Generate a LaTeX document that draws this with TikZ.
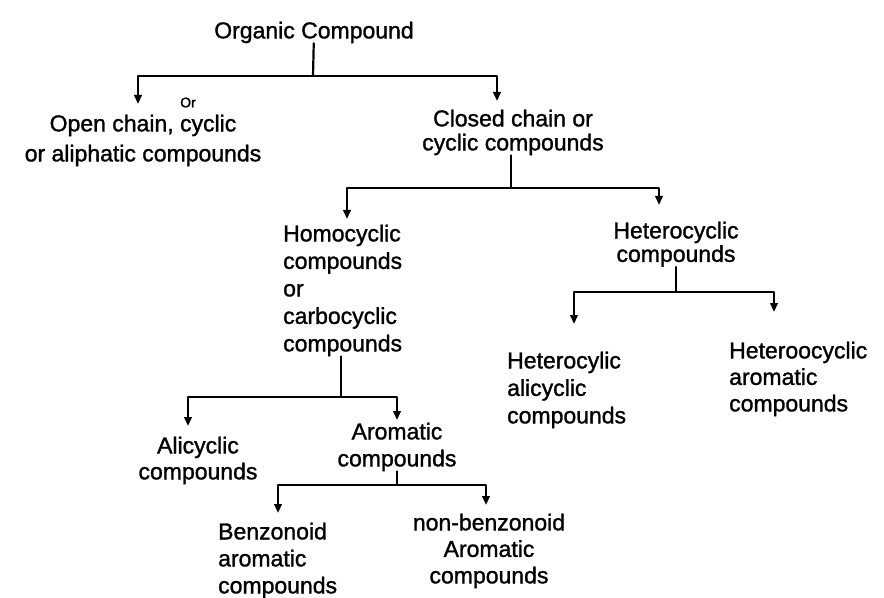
\documentclass[tikz,border=0pt]{standalone}
\usepackage{fontspec}
\setmainfont{Liberation Sans}[FakeBold=1.3]
\usetikzlibrary{arrows.meta}
\newcommand{\fszset}[1]{\fontsize{23bp}{#1bp}\selectfont}
\begin{document}
\begin{tikzpicture}[x=1bp,y=-1bp,
  lbl/.style={inner sep=0pt, font=\fszset{#1}},
  ln/.style={line width=2.2bp, line cap=round, line join=round},
  arr/.style={ln, -{Triangle[length=9bp,width=7.5bp]}}]
\useasboundingbox (0,0) rectangle (884,598);
% nodes
\node[lbl=28, anchor=north] (org) at (314,21.5) {Organic Compound};
\node[lbl=30, anchor=north, align=center] (open) at (143,114.5) {Open chain, cyclic\\or aliphatic compounds};
\node[inner sep=0pt, font=\fontsize{14bp}{14bp}\selectfont] (ormark) at (188,102.5) {Or};
\node[lbl=24, anchor=north, align=center] (closed) at (513,109.5) {Closed chain or\\cyclic compounds};
\node[lbl=27.5, anchor=north west, align=left] (homo) at (283,224.5) {Homocyclic\\compounds\\or\\carbocyclic\\compounds};
\node[lbl=23.5, anchor=north, align=center] (het) at (676,221.5) {Heterocyclic\\compounds};
\node[lbl=27.5, anchor=north west, align=left] (hali) at (507,351.5) {Heterocylic\\alicyclic\\compounds};
\node[lbl=26.5, anchor=north west, align=left] (harom) at (729,341.5) {Heteroocyclic\\aromatic\\compounds};
\node[lbl=26, anchor=north, align=center] (alic) at (198,436.5) {Alicyclic\\compounds};
\node[lbl=27, anchor=north, align=center] (arom) at (397,422.5) {Aromatic\\compounds};
\node[lbl=27, anchor=north west, align=left] (benz) at (218,522.5) {Benzonoid\\aromatic\\compounds};
\node[lbl=26.5, anchor=north, align=center] (nonb) at (489,513.5) {non-benzonoid\\Aromatic\\compounds};
% junctions and arrow tips
\coordinate (j1) at (313,76);
\coordinate (t-open) at (138,104);
\coordinate (t-closed) at (497,101);
\coordinate (j2) at (511,188);
\coordinate (t-homo) at (347,219);
\coordinate (t-het) at (659,205);
\coordinate (j3) at (676,292);
\coordinate (t-hali) at (574,324);
\coordinate (t-harom) at (774,312);
\coordinate (j4) at (341,397);
\coordinate (t-alic) at (188,426);
\coordinate (t-arom) at (397,420);
\coordinate (j5) at (397,485);
\coordinate (t-benz) at (278,513);
\coordinate (t-nonb) at (486,505);
% connectors
\draw[ln] (org) -- (j1);
\draw[arr] (j1) -| (t-open);
\draw[arr] (j1) -| (t-closed);
\draw[ln] (closed.south -| j2) -- (j2);
\draw[arr] (j2) -| (t-homo);
\draw[arr] (j2) -| (t-het);
\draw[ln] (het.south -| j3) -- (j3);
\draw[arr] (j3) -| (t-hali);
\draw[arr] (j3) -| (t-harom);
\draw[ln] (homo.south -| j4) -- (j4);
\draw[arr] (j4) -| (t-alic);
\draw[arr] (j4) -| (t-arom);
\draw[ln] (arom.south -| j5) -- (j5);
\draw[arr] (j5) -| (t-benz);
\draw[arr] (j5) -| (t-nonb);
\end{tikzpicture}
\end{document}
